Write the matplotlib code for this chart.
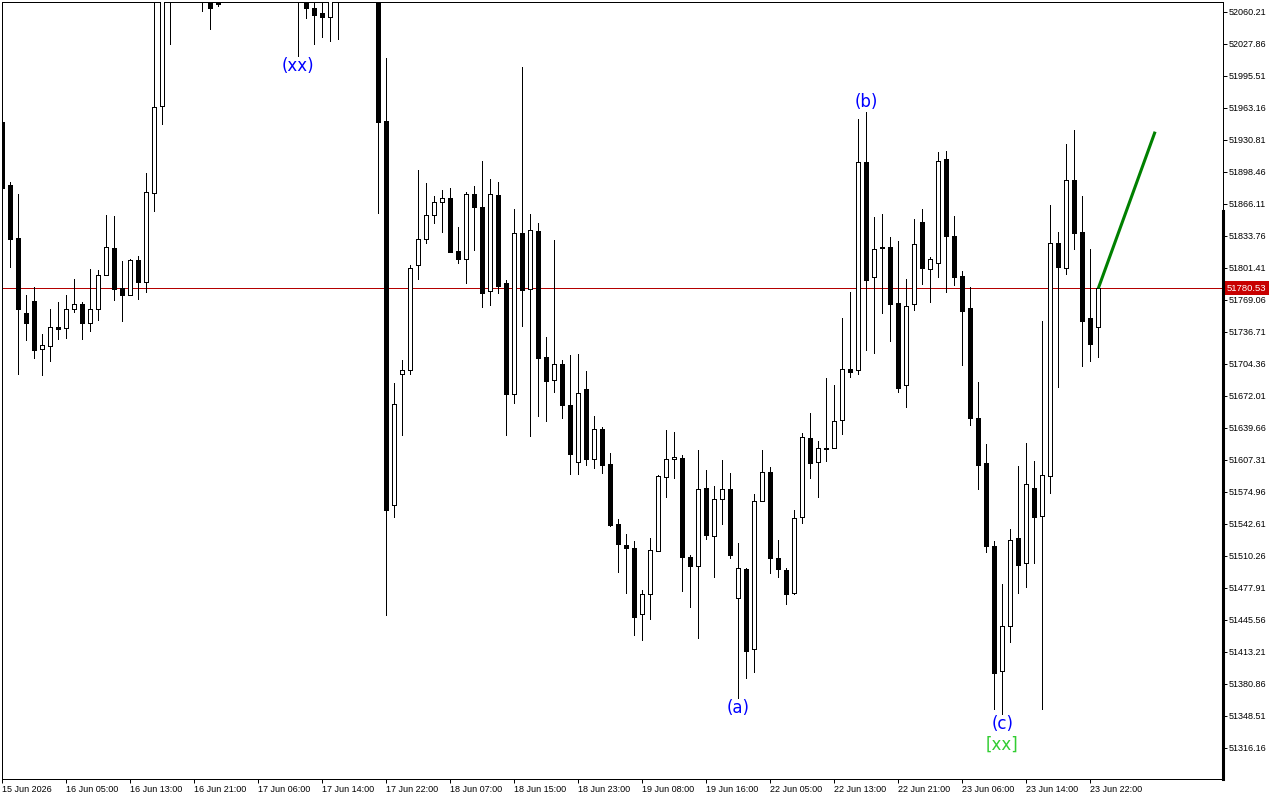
import matplotlib
matplotlib.use("Agg")
import matplotlib.pyplot as plt
from matplotlib.patches import Rectangle
from matplotlib.lines import Line2D
from matplotlib.transforms import blended_transform_factory

# ---------------- data (hourly bars) ----------------
opens = [
    51948.4, 51884.7, 51831.1, 51755.3, 51767.7, 51718.9, 51721.9, 51741.1, 51740.1, 51759.3,
    51764.4, 51745.8, 51759.3, 51793.7, 51821.0, 51781.2, 51774.1, 51808.9, 51787.2, 51876.6,
    51964.5, 52095.0, 52118.0, 52150.0, 52140.0, 52120.0, 52075.0, 52068.0, 52080.0, 52110.0,
    52140.0, 52130.0, 52115.0, 52125.0, 52110.0, 52100.0, 52095.0, 52090.0, 52074.0, 52064.4,
    52058.9, 52055.2, 52078.0, 52090.0, 52110.0, 52125.0, 52105.0, 52090.0, 51949.7, 51561.5,
    51693.6, 51697.7, 51803.8, 51830.1, 51854.4, 51867.5, 51871.5, 51818.3, 51809.9, 51875.6,
    51862.4, 51777.5, 51874.6, 51785.6, 51674.0, 51836.2, 51780.2, 51838.2, 51710.8, 51687.6,
    51703.7, 51662.6, 51605.0, 51678.8, 51608.3, 51638.0, 51602.6, 51542.0, 51520.8, 51517.7,
    51451.0, 51471.2, 51514.7, 51589.5, 51607.7, 51608.7, 51508.6, 51499.5, 51578.4, 51529.9,
    51567.3, 51577.4, 51467.2, 51496.5, 51415.6, 51565.2, 51594.6, 51507.6, 51495.5, 51472.8,
    51549.1, 51628.9, 51604.7, 51618.4, 51618.8, 51647.1, 51698.7, 51697.7, 51907.9, 51791.7,
    51822.0, 51822.0, 51765.4, 51682.5, 51764.4, 51847.3, 51799.8, 51805.8, 51910.9, 51833.1,
    51792.7, 51760.3, 51649.1, 51603.7, 51519.7, 51393.4, 51438.9, 51527.8, 51502.5, 51578.4,
    51550.1, 51590.5, 51826.1, 51800.8, 51889.7, 51837.2, 51750.2, 51741.1,
]
highs = [
    51950.0, 51887.7, 51875.9, 51773.8, 51781.6, 51734.4, 51759.6, 51766.7, 51773.8, 51790.0,
    51766.7, 51800.1, 51799.1, 51854.7, 51853.6, 51808.2, 51809.9, 51813.2, 51897.1, 52085.0,
    52110.0, 52135.0, 52160.0, 52185.0, 52170.0, 52140.0, 52090.0, 52082.0, 52120.0, 52150.0,
    52175.0, 52160.0, 52140.0, 52155.0, 52130.0, 52120.0, 52115.0, 52110.0, 52087.0, 52080.0,
    52075.0, 52085.0, 52100.0, 52120.0, 52140.0, 52150.0, 52130.0, 52100.0, 52013.4, 51684.8,
    51708.1, 51804.1, 51900.2, 51887.0, 51873.9, 51879.6, 51881.6, 51842.2, 51877.6, 51883.7,
    51909.2, 51891.0, 51888.0, 51788.6, 51860.4, 52004.3, 51855.4, 51846.3, 51731.0, 51829.4,
    51707.8, 51712.8, 51713.8, 51696.7, 51651.2, 51640.0, 51613.8, 51547.0, 51531.9, 51524.8,
    51475.3, 51527.8, 51591.5, 51637.0, 51635.0, 51611.7, 51510.6, 51616.8, 51596.6, 51580.4,
    51606.7, 51593.5, 51522.8, 51497.5, 51572.3, 51616.8, 51599.6, 51525.8, 51498.1, 51556.4,
    51634.0, 51654.5, 51625.9, 51689.9, 51682.8, 51750.5, 51776.8, 51951.7, 51958.5, 51852.3,
    51855.4, 51832.1, 51828.1, 51790.0, 51850.3, 51860.4, 51811.9, 51918.0, 51919.0, 51853.3,
    51797.7, 51781.6, 51685.5, 51623.2, 51524.8, 51481.6, 51536.9, 51600.6, 51623.9, 51605.7,
    51747.2, 51864.8, 51837.2, 51926.1, 51940.3, 51873.6, 51820.0, 51780.53,
]
lows = [
    51880.0, 51802.4, 51694.2, 51728.6, 51710.4, 51693.2, 51707.4, 51729.6, 51730.6, 51756.3,
    51729.6, 51737.7, 51748.8, 51793.7, 51769.0, 51747.8, 51774.1, 51770.0, 51777.1, 51859.0,
    51947.0, 52027.8, 52090.0, 52120.0, 52100.0, 52060.4, 52043.2, 52066.4, 52074.0, 52095.0,
    52120.0, 52105.0, 52090.0, 52100.0, 52085.0, 52080.0, 52078.0, 52015.7, 52054.0, 52028.0,
    52034.8, 52030.9, 52032.1, 52075.0, 52095.0, 52100.0, 52080.0, 51857.1, 51450.3, 51549.4,
    51632.3, 51693.6, 51790.3, 51826.1, 51846.9, 51837.8, 51817.6, 51806.4, 51786.2, 51819.6,
    51762.0, 51764.0, 51776.1, 51632.3, 51664.9, 51742.8, 51631.6, 51651.8, 51646.7, 51675.4,
    51649.1, 51592.5, 51593.1, 51601.9, 51599.2, 51594.2, 51540.6, 51493.5, 51472.2, 51430.4,
    51425.3, 51446.6, 51514.7, 51569.3, 51588.5, 51474.3, 51458.1, 51426.7, 51527.4, 51488.4,
    51542.6, 51508.2, 51366.1, 51386.3, 51393.0, 51565.2, 51492.5, 51488.4, 51461.7, 51471.8,
    51543.0, 51589.1, 51569.9, 51606.3, 51618.8, 51633.6, 51690.6, 51693.6, 51718.5, 51714.9,
    51755.3, 51727.6, 51675.4, 51660.3, 51758.3, 51785.2, 51766.4, 51791.7, 51776.5, 51784.2,
    51703.3, 51642.1, 51577.4, 51514.3, 51355.6, 51349.9, 51422.7, 51472.8, 51478.3, 51502.5,
    51355.0, 51573.3, 51680.5, 51794.7, 51820.6, 51702.3, 51706.8, 51711.4,
]
closes = [
    51882.3, 51830.1, 51759.9, 51745.2, 51718.5, 51722.9, 51741.1, 51739.7, 51759.3, 51764.4,
    51745.8, 51759.3, 51793.7, 51822.0, 51780.2, 51774.1, 51808.9, 51787.2, 51877.6, 51963.5,
    52095.0, 52118.0, 52150.0, 52140.0, 52120.0, 52085.0, 52064.4, 52068.5, 52110.0, 52140.0,
    52130.0, 52115.0, 52125.0, 52110.0, 52100.0, 52095.0, 52090.0, 52080.0, 52064.4, 52057.2,
    52055.2, 52078.0, 52090.0, 52110.0, 52125.0, 52105.0, 52090.0, 51949.0, 51556.4, 51663.6,
    51697.7, 51801.1, 51830.1, 51854.4, 51867.5, 51871.5, 51817.6, 51809.9, 51875.6, 51863.1,
    51776.1, 51875.6, 51783.2, 51674.0, 51836.2, 51779.1, 51839.2, 51710.4, 51687.2, 51703.7,
    51662.9, 51613.1, 51674.4, 51608.3, 51638.0, 51602.2, 51541.3, 51521.8, 51517.7, 51448.6,
    51471.2, 51515.7, 51590.5, 51607.7, 51609.7, 51509.2, 51499.5, 51577.4, 51531.5, 51567.3,
    51577.4, 51511.3, 51497.5, 51414.2, 51565.2, 51594.6, 51507.6, 51496.5, 51471.8, 51548.1,
    51629.9, 51603.7, 51618.8, 51618.8, 51646.1, 51698.7, 51695.6, 51907.9, 51788.6, 51820.0,
    51821.0, 51764.4, 51679.5, 51762.4, 51825.0, 51800.8, 51809.9, 51908.9, 51833.1, 51792.3,
    51757.9, 51649.1, 51602.2, 51520.4, 51391.4, 51438.9, 51525.8, 51500.5, 51582.4, 51549.7,
    51591.5, 51826.1, 51801.8, 51889.7, 51836.8, 51747.2, 51723.9, 51780.53,
]

time_labels = [
    "15 Jun 2026", "16 Jun 05:00", "16 Jun 13:00", "16 Jun 21:00", "17 Jun 06:00",
    "17 Jun 14:00", "17 Jun 22:00", "18 Jun 07:00", "18 Jun 15:00", "18 Jun 23:00",
    "19 Jun 08:00", "19 Jun 16:00", "22 Jun 05:00", "22 Jun 13:00", "22 Jun 21:00",
    "23 Jun 06:00", "23 Jun 14:00", "23 Jun 22:00",
]
bars_per_label = 8

price_ticks = [
    51316.16, 51348.51, 51380.86, 51413.21, 51445.56, 51477.91, 51510.26, 51542.61,
    51574.96, 51607.31, 51639.66, 51672.01, 51704.36, 51736.71, 51769.06, 51801.41,
    51833.76, 51866.11, 51898.46, 51930.81, 51963.16, 51995.51, 52027.86, 52060.21,
]
current_price = 51780.53

# wave labels: text, bar index, placed at 'high' or 'low'
wave_texts = ["(xx)", "(a)", "(b)", "(c)"]
wave_bars = [37, 92, 108, 125]
wave_side = ["low", "low", "high", "low"]
degree_text = "[xx]"
degree_bar = 125

# projected move (green line) from the last close
proj_bar = 144.1
proj_price = 51938.9

# ---------------- figure ----------------
W, H = 1280, 800
LW = 0.72  # one pixel
fig = plt.figure(figsize=(W / 100, H / 100), dpi=100)
fig.patch.set_facecolor("white")
ax = fig.add_axes([2 / W, 21 / H, 1220.7 / W, 777 / H])
ax.set_facecolor("white")

n = len(opens)
ax.set_xlim(-0.0375, 152.55)
ax.set_ylim(51284.49, 52069.99)

# current price line (behind candles)
ax.axhline(current_price, color="#b40000", lw=LW, zorder=1)

for i in range(n):
    o, h, l, c = opens[i], highs[i], lows[i], closes[i]
    ax.vlines(i, l, h, color="black", lw=LW, zorder=2, antialiased=False)
    face = "white" if c >= o else "black"
    ax.add_patch(Rectangle((i - 0.25, min(o, c)), 0.5, abs(c - o),
                           facecolor=face, edgecolor="black", lw=LW,
                           zorder=3, antialiased=False))

# projection line
ax.plot([n - 1, proj_bar], [closes[-1], proj_price], color="#008000",
        lw=2.2, zorder=4, solid_capstyle="butt")

# wave labels
for txt, b, side in zip(wave_texts, wave_bars, wave_side):
    if side == "high":
        ax.annotate(txt, (b, highs[b]), xytext=(0, 1), textcoords="offset pixels",
                    ha="center", va="bottom", fontsize=12, color="#0000ff",
                    family="DejaVu Sans", zorder=5)
    else:
        ax.annotate(txt, (b, lows[b]), xytext=(0, -1), textcoords="offset pixels",
                    ha="center", va="top", fontsize=12, color="#0000ff",
                    family="DejaVu Sans", zorder=5)
ax.annotate(degree_text, (degree_bar, lows[degree_bar]), xytext=(0, -21),
            textcoords="offset pixels", ha="center", va="top", fontsize=12,
            color="#32cd32", family="DejaVu Sans", zorder=5)

# axes styling
for s in ax.spines.values():
    s.set_color("black")
    s.set_linewidth(LW)

ax.yaxis.tick_right()
ax.set_yticks(price_ticks)
ax.set_yticklabels([f"{p:.2f}" for p in price_ticks])
ax.tick_params(axis="y", direction="out", length=3, width=LW, pad=1.2,
               labelsize=6.5, colors="black")

xt = list(range(0, n, bars_per_label))
ax.set_xticks(xt)
ax.set_xticklabels(time_labels[:len(xt)])
ax.tick_params(axis="x", direction="out", length=3, width=LW, pad=1.2,
               labelsize=6.5, colors="black")
for lab in ax.get_xticklabels() + ax.get_yticklabels():
    lab.set_family("Liberation Sans")
for lab in ax.get_xticklabels():
    lab.set_horizontalalignment("left")

# current price tag on the price scale
tr = blended_transform_factory(ax.transAxes, ax.transData)
ax.text(1.0 + 4 / 1220.7, current_price, f"{current_price:.2f}", transform=tr,
        ha="left", va="center", fontsize=6.8, color="white", family="Liberation Sans",
        clip_on=False, zorder=6,
        bbox=dict(boxstyle="square,pad=0.25", fc="#c80000", ec="none"))

# thick segment of the right border
fig.add_artist(Line2D([1222.7 / W, 1222.7 / W], [21 / H, (H - 211) / H],
                      color="black", lw=2.2, transform=fig.transFigure))

fig.savefig("out.png", dpi=100, facecolor="white")
